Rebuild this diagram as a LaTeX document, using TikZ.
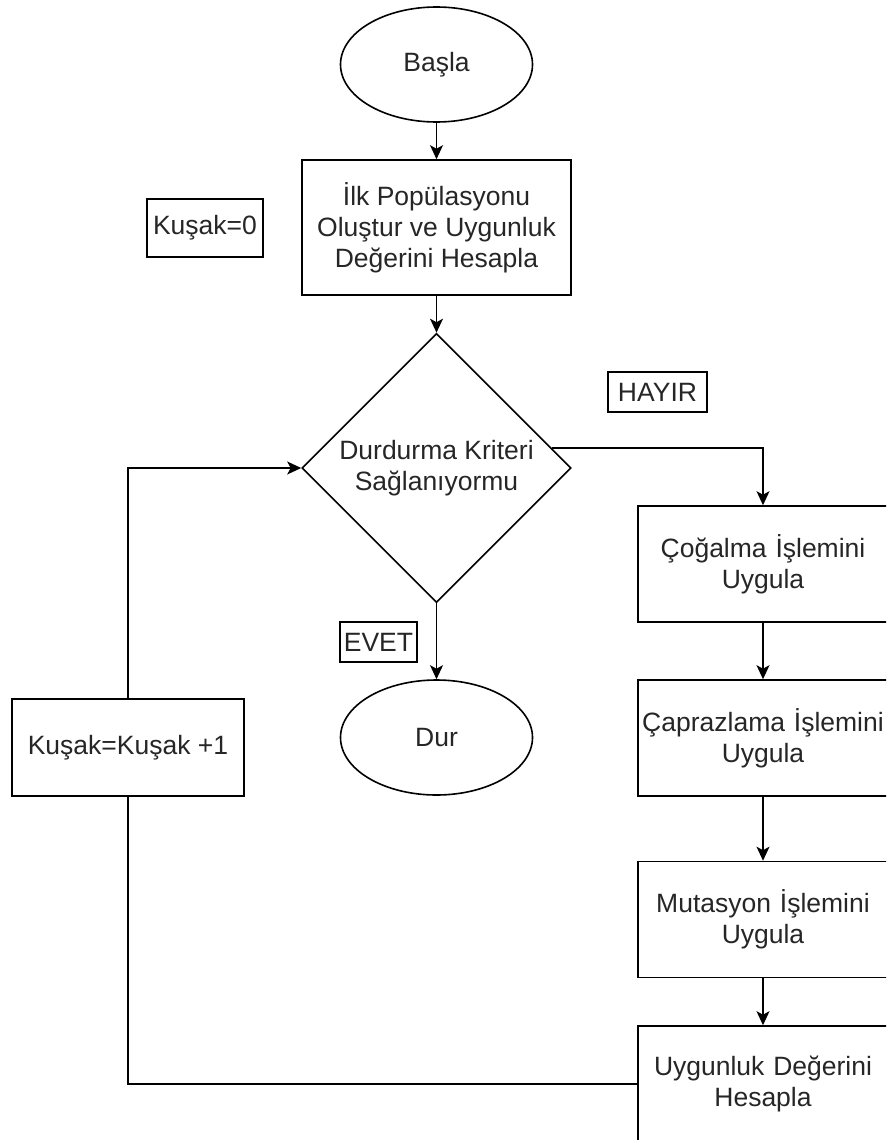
\documentclass[tikz,border=0pt]{standalone}
\usepackage{fontspec}
\setmainfont{Liberation Sans}
\usetikzlibrary{shapes.geometric,arrows.meta}
\begin{document}
\begin{tikzpicture}[x=1pt,y=-1pt,
  every node/.style={font=\fontsize{26.5}{31}\selectfont, text=black!85, align=center},
  wire/.style={draw=black, line width=1.6pt},
  arr/.style={wire, -{Stealth[length=14pt,width=13pt,inset=3.5pt]}},
  procbox/.style={wire, rectangle, inner sep=0pt},
  termnode/.style={wire, ellipse, minimum width=192pt, minimum height=115pt, inner sep=0pt},
  tagbox/.style={wire, rectangle, inner sep=0pt, minimum height=40pt},
  stepbox/.style={procbox, minimum width=264pt, minimum height=116pt, text width=250pt},
]
\useasboundingbox (0,0) rectangle (886,1140);
\clip (0,0) rectangle (886,1140);

% main column
\node[termnode] (start) at (436.5,64.5) {Başla};
\node[procbox, minimum width=269pt, minimum height=135pt] (init) at (436.5,227.5)
  {İlk Popülasyonu\\Oluştur ve Uygunluk\\Değerini Hesapla};
\node[tagbox, minimum width=116pt, minimum height=58pt] (k0) at (205,228) {Kuşak=0};
\node[wire, diamond, aspect=1, minimum width=269pt, minimum height=269pt, inner sep=0pt]
  (dia) at (436.5,468) {Durdurma Kriteri\\Sağlanıyormu};
\node[tagbox, minimum width=99pt] (no) at (657.5,392) {HAYIR};
\node[tagbox, minimum width=77pt] (yes) at (378.5,642) {EVET};
\node[termnode] (stop) at (436.5,737.5) {Dur};

% generation counter
\node[procbox, minimum width=232pt, minimum height=97pt] (inc) at (128,747.5) {Kuşak=Kuşak +1};

% genetic operators (boxes run past the right edge of the page)
\begin{scope}[every node/.append style={xshift=7pt}]
\node[stepbox] (cog) at (763,564) {\hspace*{-14pt}Çoğalma İşlemini\\\hspace*{-14pt}Uygula};
\node[stepbox] (cap) at (763,738) {\hspace*{-14pt}Çaprazlama İşlemini\\\hspace*{-14pt}Uygula};
\node[stepbox] (mut) at (763,919.5) {\hspace*{-14pt}Mutasyon İşlemini\\\hspace*{-14pt}Uygula};
\node[stepbox] (uyg) at (763,1084) {\hspace*{-14pt}Uygunluk Değerini\\\hspace*{-14pt}Hesapla};
\end{scope}

% connectors
\draw[arr] (start) -- (init);
\draw[arr] (init) -- (dia);
\draw[arr] (dia) -- (stop);
\draw[arr] (dia.10) -| ([xshift=-7pt]cog.north);
\draw[arr] ([xshift=-7pt]cog.south) -- ([xshift=-7pt]cap.north);
\draw[arr] ([xshift=-7pt]cap.south) -- ([xshift=-7pt]mut.north);
\draw[arr] ([xshift=-7pt]mut.south) -- ([xshift=-7pt]uyg.north);
\draw[wire] (uyg.west) -| (inc.south);
\draw[arr] (inc.north) |- (dia.west);
\end{tikzpicture}
\end{document}
